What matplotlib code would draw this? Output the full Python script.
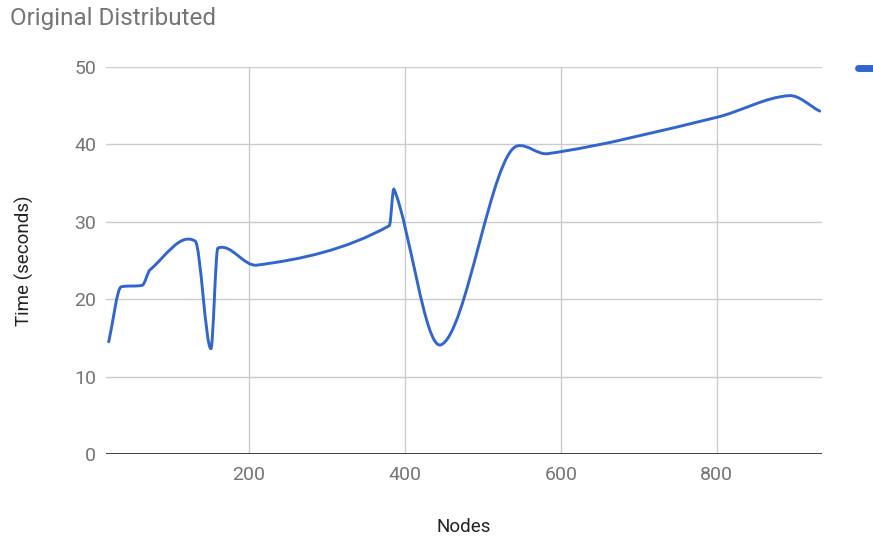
import matplotlib.pyplot as plt
import numpy as np
from matplotlib.lines import Line2D
from matplotlib.patches import PathPatch
from matplotlib.path import Path

plt.rcParams["font.family"] = ["Roboto", "DejaVu Sans"]

# run times per node count
nodes = [20, 36, 63, 73, 131, 151, 160, 210, 380, 386, 446, 544, 583, 800, 893, 932]
seconds = [14.5, 21.6, 21.8, 23.8, 27.5, 13.6, 26.6, 24.4, 29.5, 34.2, 14.1, 39.8, 38.8, 43.5, 46.3, 44.3]

title = "Original Distributed"
x_ticks = [200, 400, 600, 800]
y_ticks = [0, 10, 20, 30, 40, 50]

LINE = "#3366cc"
GRID = "#cccccc"
TEXT = "#757575"


def slopes(x, y):
    # catmull-rom tangents, limited so the curve does not overshoot much
    d = np.diff(y) / np.diff(x)
    m = np.empty_like(y)
    m[0] = d[0]
    m[-1] = d[-1]
    for i in range(1, len(x) - 1):
        cr = (y[i + 1] - y[i - 1]) / (x[i + 1] - x[i - 1])
        a, b = d[i - 1], d[i]
        if a * b > 0:
            lim = 3 * min(abs(a), abs(b))
        else:
            lim = min(abs(a), abs(b))
        m[i] = np.clip(cr, -lim, lim)
    return m


def smooth_path(xs, ys):
    x = np.asarray(xs, float)
    y = np.asarray(ys, float)
    m = slopes(x, y)
    verts = [(x[0], y[0])]
    codes = [Path.MOVETO]
    for i in range(len(x) - 1):
        h = (x[i + 1] - x[i]) / 3
        verts += [(x[i] + h, y[i] + m[i] * h),
                  (x[i + 1] - h, y[i + 1] - m[i + 1] * h),
                  (x[i + 1], y[i + 1])]
        codes += [Path.CURVE4] * 3
    return Path(verts, codes)


fig = plt.figure(figsize=(8.73, 5.43), dpi=100)
ax = fig.add_axes([106 / 873, 89 / 543, 716 / 873, 387 / 543])

ax.add_patch(
    PathPatch(
        smooth_path(nodes, seconds),
        facecolor="none",
        edgecolor=LINE,
        linewidth=2.1,
        capstyle="round",
        joinstyle="round",
        zorder=3,
    )
)

ax.set_xlim(16.5, 935)
ax.set_ylim(0, 50)
ax.set_xticks(x_ticks)
ax.set_yticks(y_ticks)
ax.grid(True, color=GRID, linewidth=1.0)
ax.set_axisbelow(True)
for s in ax.spines.values():
    s.set_visible(False)
ax.axhline(0, color="#333333", linewidth=1.3, zorder=2)
ax.tick_params(length=0, labelsize=14, labelcolor=TEXT)
ax.tick_params(axis="x", pad=9)
ax.tick_params(axis="y", pad=7)

ax.set_xlabel("Nodes", fontsize=13.5, color="#222222", va="center")
ax.xaxis.set_label_coords(0.5, -0.189)
ax.set_ylabel("Time (seconds)", fontsize=13.5, color="#222222", va="center")
ax.yaxis.set_label_coords(-0.1145, 0.5)

fig.text(10 / 873, 1 - 19 / 543, title, fontsize=17.5, color=TEXT, va="center", ha="left")

# legend swatch at the right edge
fig.add_artist(
    Line2D([858 / 873, 880 / 873], [1 - 68 / 543] * 2, transform=fig.transFigure,
           color=LINE, linewidth=5, solid_capstyle="round")
)

fig.savefig("out.png", dpi=100)
